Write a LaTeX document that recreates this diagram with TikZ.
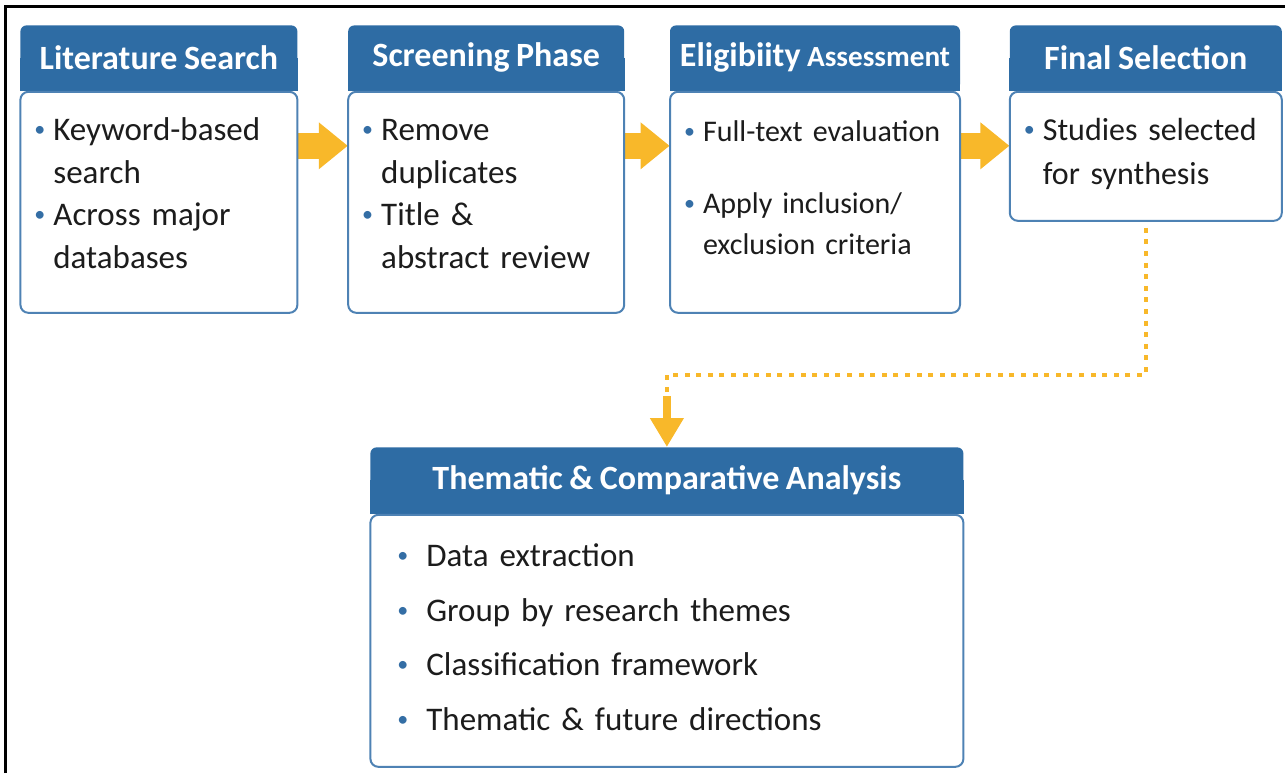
\documentclass[tikz,border=0pt]{standalone}
\usepackage{fontspec}
\setmainfont{Carlito}[WordSpace=0.85]
\usepackage{xcolor}
\usepackage{tikz}
\usetikzlibrary{arrows.meta, positioning, backgrounds}
\definecolor{headblue}{RGB}{46, 108, 164}
\definecolor{edgeblue}{RGB}{78, 130, 180}
\definecolor{dotblue}{RGB}{52, 110, 165}
\definecolor{arrowyellow}{RGB}{248, 184, 42}
\definecolor{inkgray}{RGB}{28, 28, 28}

\newcommand{\bul}[1][9.5pt]{\makebox[#1][l]{\textcolor{dotblue}{\raisebox{0.12em}{\fontsize{11}{11}\selectfont\textbullet}}}}
\newcommand{\hang}[1][9.5pt]{\hspace*{#1}}

\begin{document}
\begin{tikzpicture}[
    hdr/.style={fill=headblue, text=white, rounded corners=3pt, inner sep=0pt, minimum height=32.5pt, minimum width=#1, font=\fontsize{17}{20}\selectfont\bfseries},
    card/.style={draw=edgeblue, line width=1pt, fill=white, rounded corners=4pt, align=left, inner xsep=7pt, inner ysep=0pt, text=inkgray, text width=#1, font=\fontsize{16.5}{21.2}\selectfont},
    flow/.style={draw=arrowyellow, line width=13pt, -{Triangle[width=22.5pt, length=14.5pt]}},
    dotline/.style={draw=arrowyellow, line width=2pt, dash pattern=on 2.5pt off 3.3pt},
    drop/.style={draw=arrowyellow, line width=4pt, -{Triangle[width=16pt, length=14.5pt]}}]

    \useasboundingbox (0,0) rectangle (642.5pt,-386.5pt);
    \draw[line width=1.5pt] (2.5pt,-386.5pt) -- (2.5pt,-3.25pt) -- (642.5pt,-3.25pt);

    \node[hdr=138.5pt, anchor=north west] (lith) at (10pt,-12.5pt) {Literature Search};
    \node[hdr=138pt, right=25pt of lith] (scrh) {Screening Phase};
    \node[hdr=145pt, right=22.5pt of scrh] (elih) {Eligibiity {\fontsize{14.6}{18}\selectfont Assessment}};
    \node[hdr=136pt, right=24.5pt of elih] (finh) {Final Selection};
    \node[hdr=296.5pt, minimum height=33pt, anchor=north west] (thh) at (185pt,-223.5pt) {Thematic \& Comparative Analysis};

    \node[card=124.5pt, minimum height=110.5pt, text height=24.5pt, text depth=86pt, below=0pt of lith] (litb) {\bul Keyword-based\\ \hang search\\ \bul Across major\\ \hang databases};
    \node[card=124pt, minimum height=110.5pt, text height=24.5pt, text depth=86pt, below=0pt of scrh] (scrb) {\bul Remove\\ \hang duplicates\\ \bul Title \&\\ \hang abstract review};
    \node[card=131pt, minimum height=110.5pt, text height=25pt, text depth=85.5pt, below=0pt of elih, font=\fontsize{15}{20.5}\selectfont] (elib) {\bul Full-text evaluation\\[15.5pt] \bul Apply inclusion/\\ \hang exclusion criteria};
    \node[card=122pt, minimum height=64.5pt, text height=24.25pt, text depth=40.25pt, below=0pt of finh, font=\fontsize{16}{22}\selectfont] (finb) {\bul Studies selected\\ \hang for synthesis};
    \node[card=269.5pt, inner xsep=13.5pt, minimum height=126pt, text height=26pt, text depth=100pt, below=0pt of thh] (thb) {\bul[14.5pt]Data extraction\\[6pt] \bul[14.5pt]Group by research themes\\[6pt] \bul[14.5pt]Classification framework\\[6pt] \bul[14.5pt]Thematic \& future directions};

    \begin{scope}[on background layer]
        % square off the lower corners of the header bars
        \foreach \h in {lith, scrh, elih, finh, thh}
            \fill[headblue] (\h.west) rectangle (\h.south east);
        \draw[flow] ([yshift=-27.5pt]lith.south east) -- ([yshift=-27.5pt]scrh.south west);
        \draw[flow] ([yshift=-27.5pt]scrh.south east) -- ([yshift=-27.5pt]elih.south west);
        \draw[flow] ([yshift=-27.5pt]elih.south east) -- ([yshift=-27.5pt]finh.south west);
    \end{scope}

    \coordinate[above=25.5pt of thh.north] (dropin);
    \draw[dotline, shorten <=3pt] (finb.south) -- ++(0,-76.5pt) -| (dropin);
    \draw[drop] (dropin) -- (thh.north);
\end{tikzpicture}
\end{document}
